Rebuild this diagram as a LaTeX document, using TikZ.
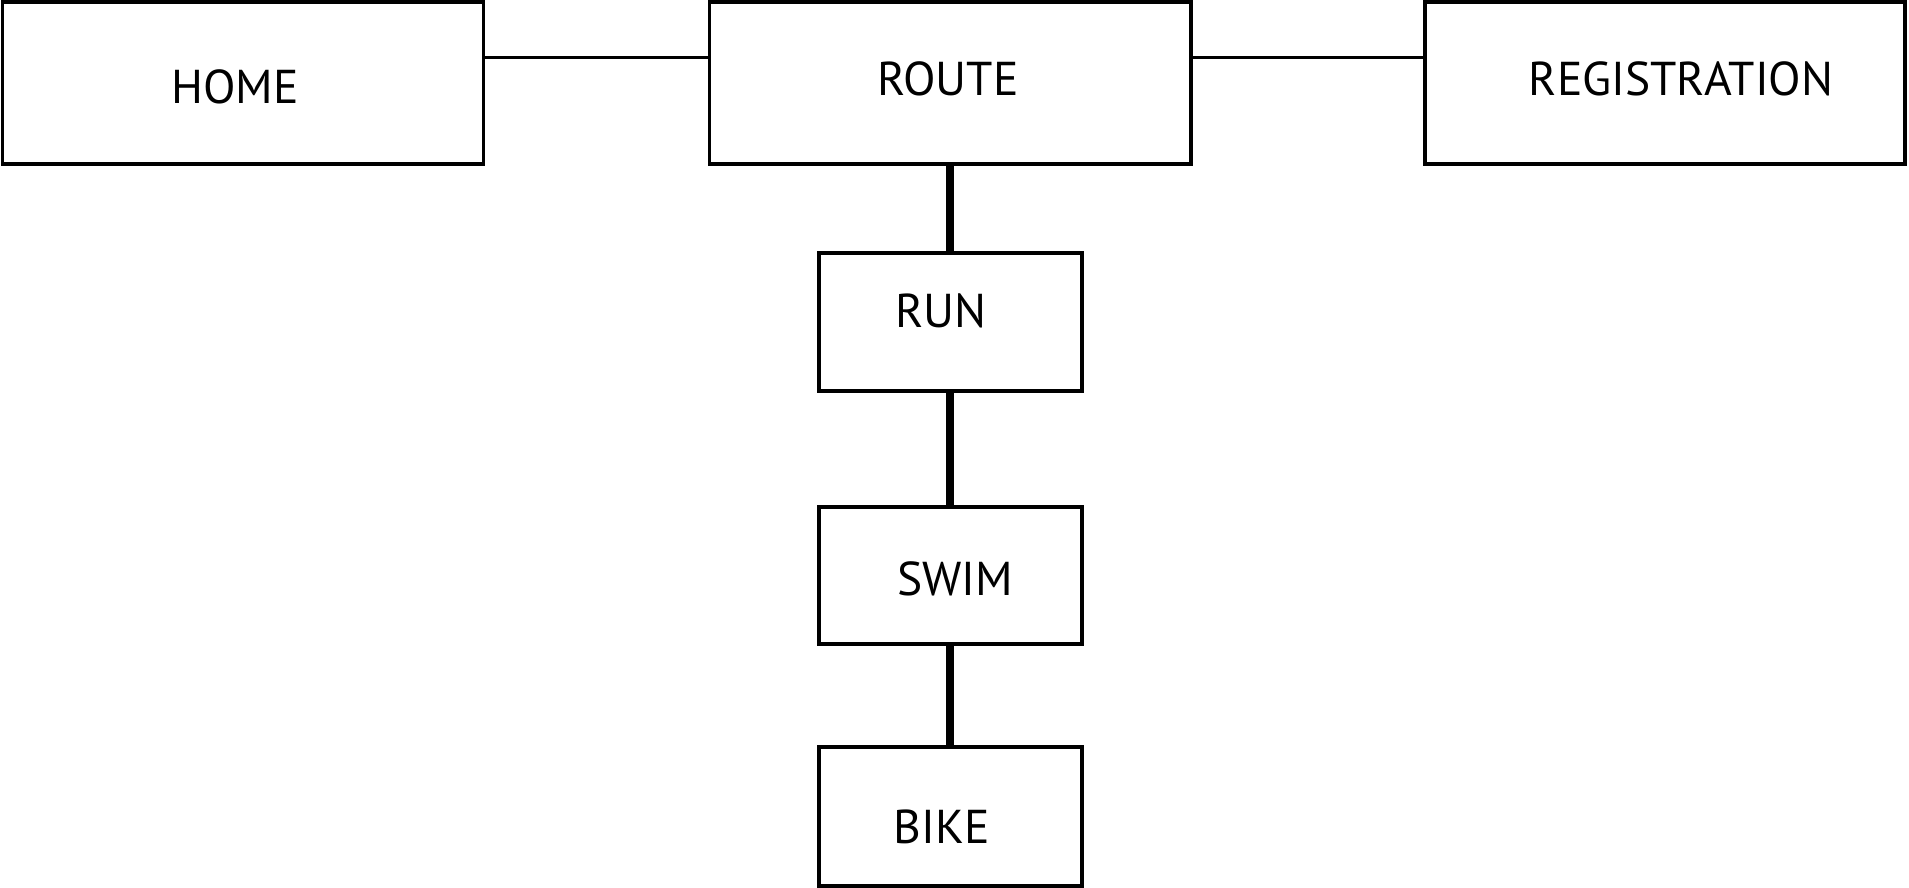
\documentclass[tikz,border=0pt]{standalone}
\usepackage{fontspec}
\setmainfont{PT Sans}
\usetikzlibrary{calc}
\begin{document}
\begin{tikzpicture}[x=1pt,y=-1pt,
  box/.style={draw=black, line width=3.5pt, rectangle, inner sep=0pt, outer sep=0pt},
  lbl/.style={anchor=base, inner sep=0pt, font=\fontsize{47.5}{50}\selectfont},
  thin link/.style={draw=black, line width=3pt},
  thick link/.style={draw=black, line width=8pt}]
\useasboundingbox (0,0) rectangle (1909,888);
\fill[white] (0,0) rectangle (1909,888);
% boxes
\node[box, minimum width=481pt, minimum height=162pt] (home) at (243,83) {};
\node[box, minimum width=481.5pt, minimum height=162pt] (route) at (950.25,83) {};
\node[box, minimum width=480pt, minimum height=162pt] (reg) at (1665,83) {};
\node[box, minimum width=263pt, minimum height=138pt] (run) at (950.25,322) {};
\node[box, minimum width=263pt, minimum height=137pt] (swim) at (950.25,575.5) {};
\node[box, minimum width=263pt, minimum height=139pt] (bike) at (950.25,816.5) {};
% labels
\node[lbl] (homet) at (235,104) {HOME};
\node[lbl] (routet) at (948,96) {ROUTE};
\node[lbl] (regt) at (1681,96) {REGISTRATION};
\node[lbl] (runt) at (941,327) {RUN};
\node[lbl] (swimt) at (955,595) {SWIM};
\node[lbl] (biket) at (941.5,843) {BIKE};
% connectors
\draw[thin link] ($(home.north east)!0.343!(home.south east)$) -- ($(route.north west)!0.343!(route.south west)$);
\draw[thin link] ($(route.north east)!0.34!(route.south east)$) -- ($(reg.north west)!0.34!(reg.south west)$);
\draw[thick link] (route.south) -- (run.north);
\draw[thick link] (run.south) -- (swim.north);
\draw[thick link] (swim.south) -- (bike.north);
\end{tikzpicture}
\end{document}
